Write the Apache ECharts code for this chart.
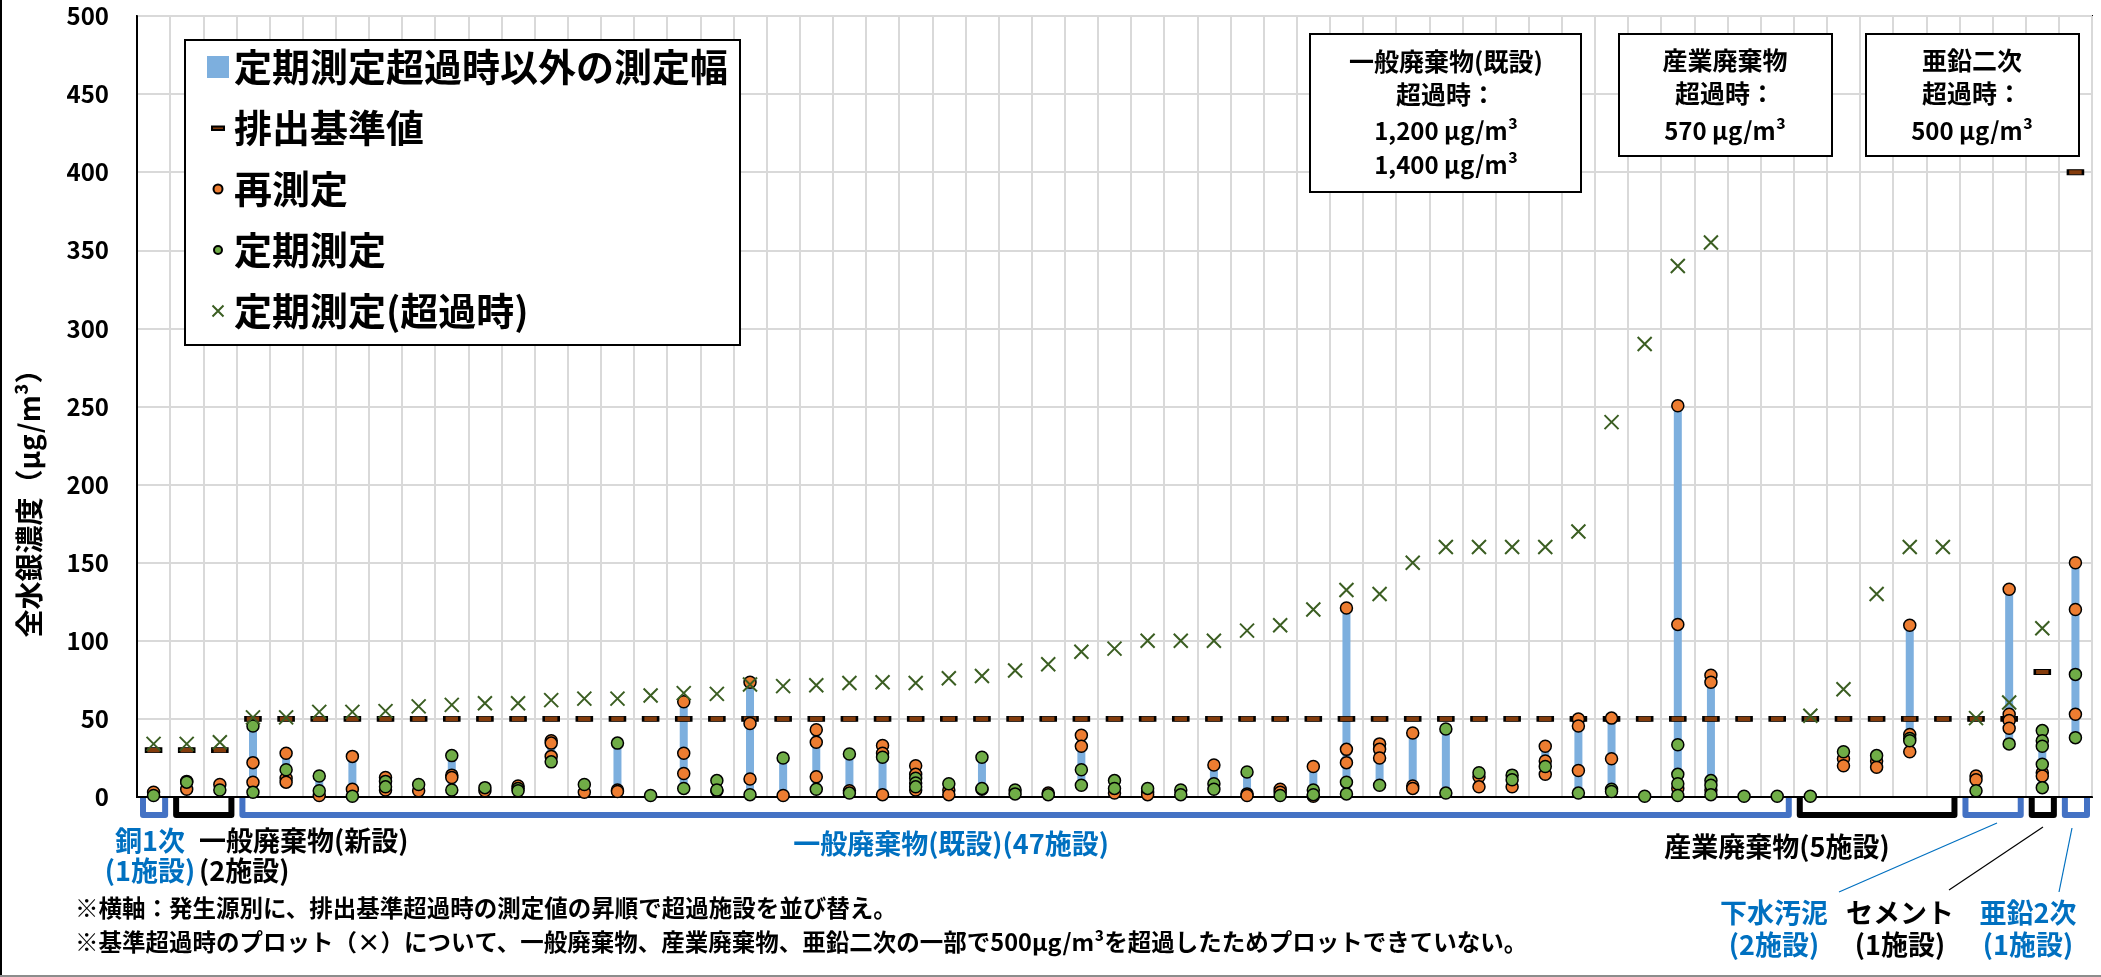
<!DOCTYPE html>
<html>
<head>
<meta charset="utf-8">
<script src="https://cdn.jsdelivr.net/npm/echarts@6/dist/echarts.min.js"></script>
<style>
  html, body { margin: 0; padding: 0; background: #fff; }
  #chart { width: 2101px; height: 977px; }
</style>
</head>
<body>
<div id="chart"></div>
<script>
// 発生源グループ
var groupNames = ['銅1次', '一般廃棄物(新設)', '一般廃棄物(既設)', '産業廃棄物', '下水汚泥', 'セメント', '亜鉛2次'];
var groupCounts = [1, 2, 47, 5, 2, 1, 1];
var groupColors = ['#4472C4', '#000000', '#4472C4', '#000000', '#4472C4', '#000000', '#4472C4'];

// 排出基準値
var standardValues = [
  30, 30, 30, 50, 50, 50, 50, 50, 50, 50,
  50, 50, 50, 50, 50, 50, 50, 50, 50, 50,
  50, 50, 50, 50, 50, 50, 50, 50, 50, 50,
  50, 50, 50, 50, 50, 50, 50, 50, 50, 50,
  50, 50, 50, 50, 50, 50, 50, 50, 50, 50,
  50, 50, 50, 50, 50, 50, 50, 80, 400
];

// 定期測定(超過時)  null = 500超でプロット外
var exceedValues = [
  34, 34, 35, 51, 51, 54.5, 54.5, 55, 58, 59,
  60, 60, 62, 63, 63, 65, 66.5, 66, 72, 71,
  71.5, 73, 73.5, 73, 76, 77.5, 81, 85, 93, 95,
  100, 100, 100, 106.5, 110, 120, 132.5, 130, 150, 160,
  160, 160, 160, 170, 240, 290, 340, 355, null, null,
  52, 69, 130, 160, 160, 50.5, 60.5, 108, null
];

// 再測定
var retestValues = [
  [3], [5, 10], [8], [22, 9.5], [28, 12, 9.5], [1], [26, 5], [12.5, 4.5], [4], [14, 12.5],
  [4], [7], [36, 34.5, 26], [3], [4.5, 3.5], [], [61, 28, 15], [4], [73.5, 47, 11.5], [1],
  [43, 35, 13], [4], [33, 28, 1.5], [20, 14.5, 4.5], [4.5, 1.5], [5], [], [2.5], [39.5, 32.5], [2.5],
  [3, 1.5], [], [20.5], [2, 1], [5, 3], [19.5, 0.5], [121, 30.5, 22], [34, 30.5, 25], [41, 7, 5.5], [],
  [13, 6.5], [6.5], [32.5, 23, 14.5], [50, 45.5, 17], [50.5, 24.5], [], [250.5, 110.5, 5.5], [78, 73.5, 4.5], [], [],
  [], [24.5, 20], [23, 19], [110, 40, 29], [], [13.5, 11], [133, 53, 49, 44], [15.5, 13.5], [150, 120, 53]
];

// 定期測定
var periodicValues = [
  [1], [9.5], [4.5], [45.5, 3], [17.5], [13.5, 4], [0.5], [10, 6.5], [8], [26.5, 4.5],
  [6], [5.5, 4], [22.5], [8], [34.5], [1], [5.5], [10.5, 4.5], [1.5], [25],
  [5], [27.5, 2.5], [25.5], [12, 9, 6.5], [8.5], [25.5, 5.5], [4.5, 2], [1.5], [17.5, 7.5], [10.5, 5.5],
  [5.5], [4.5, 1.5], [8.5, 5], [16], [1], [4.5, 1.5], [9.5, 2], [7.5], [], [43.5, 2.5],
  [15.5], [14, 11], [19.5], [2.5], [5, 3.5], [0.5], [33.5, 14.5, 8.5, 1], [10.5, 7.5, 1.5], [0.5], [0.5],
  [0.5], [29], [26.5], [37.5, 36], [], [4], [34], [42.5, 36, 32.5, 21, 6], [78.5, 38]
];

// 定期測定超過時以外の測定幅
var rangeLow = [
  1, 5, 4.5, 3, 9.5, 1, 0.5, 4.5, 4, 4.5,
  4, 4, 22.5, 3, 3.5, 1, 5.5, 4, 1.5, 1,
  5, 2.5, 1.5, 4.5, 1.5, 5, 2, 1.5, 7.5, 2.5,
  1.5, 1.5, 5, 1, 1, 0.5, 2, 7.5, 5.5, 2.5,
  6.5, 6.5, 14.5, 2.5, 3.5, 0.5, 1, 1.5, 0.5, 0.5,
  0.5, 20, 19, 29, null, 4, 34, 6, 38
];
var rangeHigh = [
  3, 10, 8, 45.5, 28, 13.5, 26, 12.5, 8, 26.5,
  6, 7, 36, 8, 34.5, 1, 61, 10.5, 73.5, 25,
  43, 27.5, 33, 20, 8.5, 25.5, 4.5, 2.5, 39.5, 10.5,
  5.5, 4.5, 20.5, 16, 5, 19.5, 121, 34, 41, 43.5,
  15.5, 14, 32.5, 50, 50.5, 0.5, 250.5, 78, 0.5, 0.5,
  0.5, 29, 26.5, 110, null, 13.5, 133, 42.5, 150
];

var yTicks = { min: 0, max: 500, interval: 50 };

var fontFamily = '"Noto Sans CJK JP", "Noto Sans", sans-serif';

// カテゴリ名(施設)
var categories = [];
var groupRanges = [];
groupNames.forEach(function (g, gi) {
  var start = categories.length;
  for (var k = 1; k <= groupCounts[gi]; k++) categories.push(g + '-' + k);
  groupRanges.push([start, categories.length - 1, gi, 0]);
});

function pairs(list) {
  var out = [];
  list.forEach(function (vals, i) {
    vals.forEach(function (v) { out.push([i, v]); });
  });
  return out;
}

function txt(x, y, text, size, color, align) {
  return {
    type: 'text', x: x, y: y, z: 100,
    style: {
      text: text, fill: color || '#000', fontSize: size, fontWeight: 'bold', fontFamily: fontFamily,
      align: align || 'center', verticalAlign: 'middle'
    }
  };
}
function box(x, y, w, h) {
  return { type: 'rect', z: 99, shape: { x: x, y: y, width: w, height: h },
    style: { fill: '#fff', stroke: '#000', lineWidth: 2 } };
}
function line(x1, y1, x2, y2, color, w) {
  return { type: 'line', z: 100, shape: { x1: x1, y1: y1, x2: x2, y2: y2 },
    style: { stroke: color, lineWidth: w || 1.2 } };
}

var option = {
  animation: false,
  backgroundColor: '#fff',
  textStyle: { fontFamily: fontFamily },
  grid: {
    left: 137, right: 9, top: 16, bottom: 180,
    show: true, borderColor: '#000', borderWidth: 2,
    outerBoundsMode: 'none'
  },
  legend: {
    orient: 'vertical', left: 185, top: 40,
    padding: [8, 12, 15, 21], itemGap: 23, itemWidth: 22, itemHeight: 22,
    backgroundColor: '#fff', borderColor: '#000', borderWidth: 2,
    selectedMode: false,
    textStyle: { fontSize: 38, fontWeight: 'bold', color: '#000', fontFamily: fontFamily },
    data: [
      { name: '定期測定超過時以外の測定幅', icon: 'rect' },
      { name: '排出基準値', icon: 'path://M0,0M22,22M5,9.5L17,9.5L17,13L5,13Z' },
      { name: '再測定', icon: 'path://M0,0M22,22M6.5,11A4.5,4.5,0,1,1,15.5,11A4.5,4.5,0,1,1,6.5,11Z' },
      { name: '定期測定', icon: 'path://M0,0M22,22M7,11A4,4,0,1,1,15,11A4,4,0,1,1,7,11Z' },
      { name: '定期測定(超過時)', icon: 'path://M0,0M22,22M5.5,5.5L16.5,16.5M16.5,5.5L5.5,16.5' }
    ]
  },
  xAxis: {
    type: 'category', data: categories, boundaryGap: true,
    axisLine: { show: true, lineStyle: { color: '#000', width: 2 } },
    axisTick: { show: false },
    axisLabel: { show: false, interval: 0 },
    splitLine: { show: true, interval: 0, lineStyle: { color: '#D9D9D9', width: 2 } }
  },
  yAxis: {
    type: 'value', min: yTicks.min, max: yTicks.max, interval: yTicks.interval,
    axisLine: { show: true, lineStyle: { color: '#000', width: 2 } },
    axisTick: { show: false },
    axisLabel: { fontSize: 24, fontWeight: 'bold', color: '#000', margin: 28, fontFamily: fontFamily },
    splitLine: { show: true, lineStyle: { color: '#D9D9D9', width: 2 } },
    name: '全水銀濃度（μg/m³）', nameLocation: 'middle', nameRotate: 90, nameGap: 94,
    nameTextStyle: { fontSize: 28, fontWeight: 'bold', color: '#000', fontFamily: fontFamily, padding: [0, 180, 0, 0] }
  },
  series: [
    {
      name: '定期測定超過時以外の測定幅',
      type: 'custom',
      itemStyle: { color: '#7DAFDE' },
      encode: { x: 0, y: [1, 2] },
      data: categories.map(function (c, i) { return [i, rangeLow[i], rangeHigh[i]]; })
        .filter(function (d) { return d[1] != null; }),
      renderItem: function (params, api) {
        var lo = api.coord([api.value(0), api.value(1)]);
        var hi = api.coord([api.value(0), api.value(2)]);
        return {
          type: 'rect',
          shape: { x: lo[0] - 4, y: hi[1], width: 8, height: Math.max(lo[1] - hi[1], 0) },
          style: { fill: '#7DAFDE' }
        };
      },
      z: 1
    },
    {
      name: '排出基準値',
      type: 'scatter',
      symbol: 'rect', symbolSize: [15, 5],
      itemStyle: { color: '#843C0C', borderColor: '#000', borderWidth: 1.5, opacity: 1 },
      data: standardValues.map(function (v, i) { return [i, v]; }),
      z: 3
    },
    {
      name: '再測定',
      type: 'scatter',
      symbol: 'circle', symbolSize: 12,
      itemStyle: { color: '#ED7D31', borderColor: '#000', borderWidth: 1.5, opacity: 1 },
      data: pairs(retestValues),
      z: 4
    },
    {
      name: '定期測定',
      type: 'scatter',
      symbol: 'circle', symbolSize: 12,
      itemStyle: { color: '#70AD47', borderColor: '#000', borderWidth: 1.5, opacity: 1 },
      data: pairs(periodicValues),
      z: 5
    },
    {
      name: '定期測定(超過時)',
      type: 'scatter',
      symbol: 'path://M0,0L10,10M10,0L0,10', symbolSize: 14,
      itemStyle: { color: 'rgba(0,0,0,0)', borderColor: '#3B5E22', borderWidth: 2, opacity: 1 },
      data: exceedValues.map(function (v, i) { return [i, v]; }).filter(function (d) { return d[1] != null; }),
      z: 6
    },
    {
      name: '発生源区分',
      type: 'custom',
      silent: true,
      encode: { x: [0, 1], y: 3 },
      data: groupRanges,
      renderItem: function (params, api) {
        var bw = api.size([1, 0])[0];
        var p0 = api.coord([api.value(0), 0]);
        var p1 = api.coord([api.value(1), 0]);
        var l = p0[0] - bw / 2 + 6;
        var r = p1[0] + bw / 2 - 5;
        var y = p0[1];
        return {
          type: 'polyline',
          shape: { points: [[l, y + 1], [l, y + 18], [r, y + 18], [r, y + 1]] },
          style: { stroke: groupColors[api.value(2)], lineWidth: 6, fill: null, lineJoin: 'round' }
        };
      },
      z: 2
    }
  ],
  graphic: [
    // 超過時の注記(500超)
    box(1310, 34, 271, 158),
    txt(1446, 61, '一般廃棄物(既設)', 25),
    txt(1446, 94, '超過時：', 25),
    txt(1446, 131, '1,200 μg/m³', 24),
    txt(1446, 165, '1,400 μg/m³', 24),
    box(1619, 34, 213, 122),
    txt(1725, 60, '産業廃棄物', 25),
    txt(1725, 93, '超過時：', 25),
    txt(1725, 131, '570 μg/m³', 24),
    box(1866, 34, 213, 122),
    txt(1972, 60, '亜鉛二次', 25),
    txt(1972, 93, '超過時：', 25),
    txt(1972, 131, '500 μg/m³', 24),
    // 発生源ラベル
    txt(150, 841, '銅1次', 27, '#0070C0'),
    txt(150, 871, '(1施設)', 27, '#0070C0'),
    txt(199, 841, '一般廃棄物(新設)', 27, '#000', 'left'),
    txt(199, 871, '(2施設)', 27, '#000', 'left'),
    txt(951, 844, '一般廃棄物(既設)(47施設)', 27, '#0070C0'),
    txt(1777, 847, '産業廃棄物(5施設)', 27, '#000'),
    txt(1774, 913, '下水汚泥', 27, '#0070C0'),
    txt(1774, 945, '(2施設)', 27, '#0070C0'),
    txt(1900, 913, 'セメント', 27, '#000'),
    txt(1900, 945, '(1施設)', 27, '#000'),
    txt(2028, 913, '亜鉛2次', 27, '#0070C0'),
    txt(2028, 945, '(1施設)', 27, '#0070C0'),
    line(1839, 892, 1997, 823, '#0070C0'),
    line(1949, 890, 2043, 827, '#000'),
    line(2059, 892, 2072, 828, '#0070C0'),
    // 注記
    txt(75, 908, '※横軸：発生源別に、排出基準超過時の測定値の昇順で超過施設を並び替え。', 23.5, '#000', 'left'),
    txt(75, 942, '※基準超過時のプロット（×）について、一般廃棄物、産業廃棄物、亜鉛二次の一部で500μg/m³を超過したためプロットできていない。', 23.5, '#000', 'left'),
    // 外枠
    line(1, 0, 1, 977, '#000', 2),
    line(0, 976, 2101, 976, '#8C8C8C', 2)
  ]
};

var chart = echarts.init(document.getElementById('chart'));
chart.setOption(option);
</script>
</body>
</html>
